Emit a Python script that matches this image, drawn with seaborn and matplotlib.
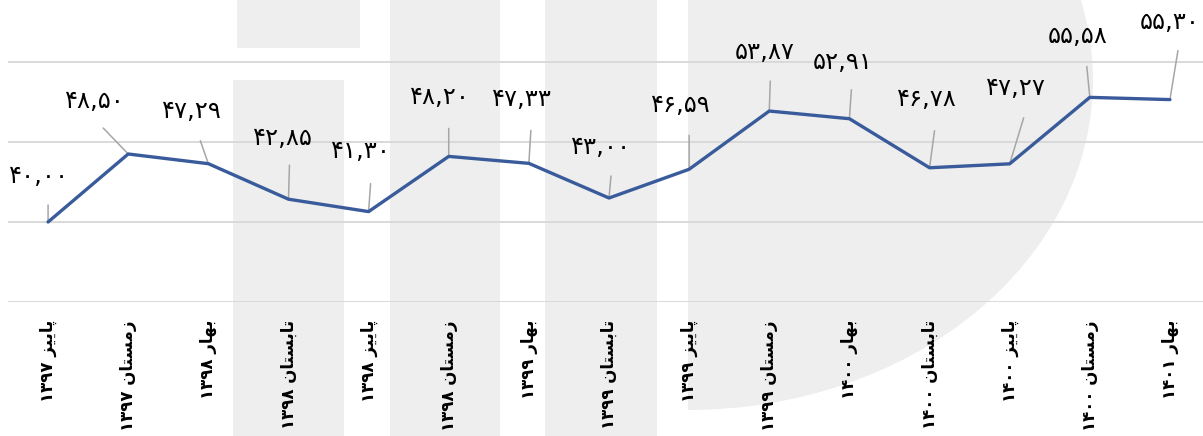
import numpy as np
import matplotlib
matplotlib.use('Agg')
import matplotlib.pyplot as plt
import seaborn as sns
from matplotlib.patches import Rectangle, Ellipse

# داده‌ها
seasons = ['پاییز', 'زمستان', 'بهار', 'تابستان', 'پاییز', 'زمستان', 'بهار', 'تابستان',
           'پاییز', 'زمستان', 'بهار', 'تابستان', 'پاییز', 'زمستان', 'بهار']
years = ['۱۳۹۷', '۱۳۹۷', '۱۳۹۸', '۱۳۹۸', '۱۳۹۸', '۱۳۹۸', '۱۳۹۹', '۱۳۹۹',
         '۱۳۹۹', '۱۳۹۹', '۱۴۰۰', '۱۴۰۰', '۱۴۰۰', '۱۴۰۰', '۱۴۰۱']
values = [40.00, 48.50, 47.29, 42.85, 41.30, 48.20, 47.33, 43.00,
          46.59, 53.87, 52.91, 46.78, 47.27, 55.58, 55.30]

# جای برچسب‌ها و خط راهنما نسبت به نقطه (پیکسل)
label_off = [(-9, 46), (-33, 53), (-16, 53), (-6, 61), (-8, 61), (-9, 59), (-7, 64), (-8, 51),
             (-8, 64), (-5, 59), (-7, 57), (-3, 69), (6, 76), (-12, 61), (0, 78)]
leader_off = [(0, 17), (-25, 26), (-8, 23), (1, 34), (2, 28), (0, 28), (2, 33), (2, 22),
              (0, 34), (1, 30), (2, 29), (5, 37), (14, 46), (-3, 31), (8, 49)]

# شکل‌دهی ساده حروف فارسی (matplotlib خودش حروف را نمی‌چسباند)
FORMS = {
    'ا': ('\uFE8D', '\uFE8E', None, None),
    'ب': ('\uFE8F', '\uFE90', '\uFE91', '\uFE92'),
    'پ': ('\uFB56', '\uFB57', '\uFB58', '\uFB59'),
    'ت': ('\uFE95', '\uFE96', '\uFE97', '\uFE98'),
    'ر': ('\uFEAD', '\uFEAE', None, None),
    'ز': ('\uFEAF', '\uFEB0', None, None),
    'س': ('\uFEB1', '\uFEB2', '\uFEB3', '\uFEB4'),
    'م': ('\uFEE1', '\uFEE2', '\uFEE3', '\uFEE4'),
    'ن': ('\uFEE5', '\uFEE6', '\uFEE7', '\uFEE8'),
    'ه': ('\uFEE9', '\uFEEA', '\uFEEB', '\uFEEC'),
    'ی': ('\uFBFC', '\uFBFD', '\uFBFE', '\uFBFF'),
}


def shape(word):
    out = []
    for i, ch in enumerate(word):
        f = FORMS[ch]
        prev_j = i > 0 and FORMS[word[i - 1]][2] is not None
        next_j = f[2] is not None and i < len(word) - 1
        if prev_j and next_j:
            out.append(f[3])
        elif prev_j:
            out.append(f[1])
        elif next_j:
            out.append(f[2])
        else:
            out.append(f[0])
    return ''.join(reversed(out))


fa_digits = str.maketrans('0123456789', '۰۱۲۳۴۵۶۷۸۹')
cat_labels = [y + ' ' + shape(s) for s, y in zip(seasons, years)]
val_labels = [f'{v:.2f}'.replace('.', ',').translate(fa_digits) for v in values]

sns.set_theme(style='white')
plt.rcParams['font.family'] = ['DejaVu Sans']

W, H = 1203, 436
fig = plt.figure(figsize=(W / 100, H / 100), dpi=100)
fig.patch.set_facecolor('white')

# واترمارک خاکستری پس‌زمینه
wm = '#eeeeee'
for x0, y0, x1, y1 in [(237, 0, 360, 48), (233, 80, 344, 436), (390, 0, 500, 436), (545, 0, 657, 436)]:
    fig.add_artist(Rectangle((x0 / W, 1 - y1 / H), (x1 - x0) / W, (y1 - y0) / H,
                             transform=fig.transFigure, color=wm, lw=0, zorder=-1))
clip = Rectangle((688 / W, 0), 1, 1, transform=fig.transFigure, visible=False)
fig.add_artist(clip)
ell = Ellipse((688 / W, 1 - 80 / H), 810 / W, 660 / H, transform=fig.transFigure,
              color=wm, lw=0, zorder=-1)
fig.add_artist(ell)
ell.set_clip_path(clip)

ax = fig.add_axes([8 / W, (H - 302) / H, 1202 / W, 302 / H])
ax.patch.set_alpha(0)

x = np.arange(len(values))
sns.lineplot(x=x, y=values, ax=ax, color='#3A5B9B', lw=2.4, zorder=3)

for i, v in enumerate(values):
    ax.annotate('', xy=(i, v), xytext=leader_off[i], textcoords='offset pixels',
                arrowprops=dict(arrowstyle='-', color='#a6a6a6', lw=1.1, shrinkA=0, shrinkB=0),
                zorder=2)
    ax.annotate(val_labels[i], xy=(i, v), xytext=label_off[i], textcoords='offset pixels',
                ha='center', va='center', fontsize=17.5, color='black', annotation_clip=False)

ax.set_xlim(-0.5, 14.5)
ax.set_ylim(30, 67.75)
ax.set_yticks([30, 40, 50, 60])
ax.set_yticklabels([])
ax.set_xticks(x)
ax.set_xticklabels(cat_labels, rotation=90, fontsize=12, fontweight='bold', color='black')
ax.tick_params(axis='both', length=0)
ax.tick_params(axis='x', pad=13)
ax.grid(axis='y', color='#d9d9d9', lw=1.4)
ax.grid(axis='x', visible=False)
ax.set_xlabel('')
for s in ax.spines.values():
    s.set_visible(False)

fig.savefig('out.png', dpi=100)
